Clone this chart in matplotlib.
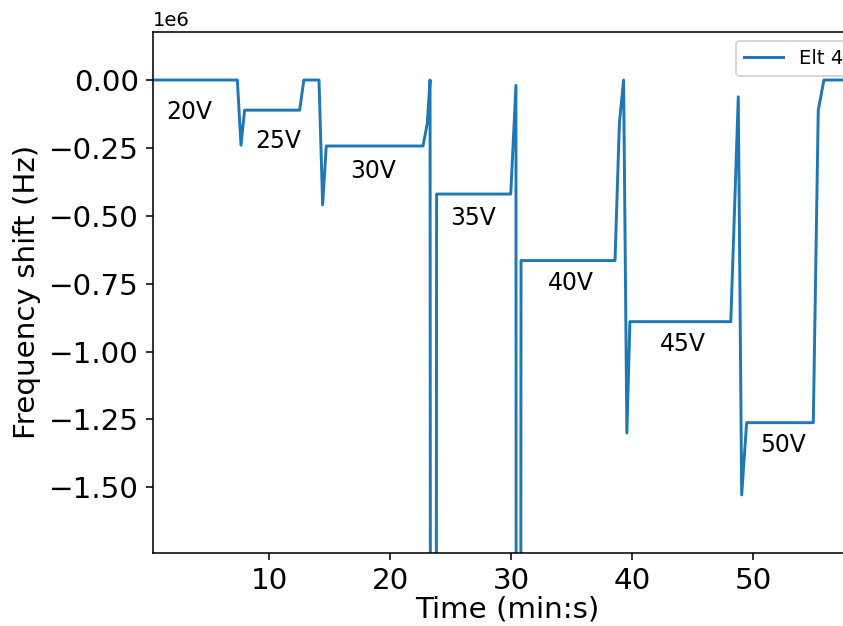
import matplotlib
matplotlib.use('Agg')
import matplotlib.pyplot as plt

# time (min:s) and frequency shift (Hz)
time = [0.35, 7.35, 7.65, 7.95, 12.5, 12.85, 14.1, 14.4, 14.7,
        22.7, 23.05, 23.28, 23.55, 23.82,
        29.95, 30.38, 30.55, 30.8,
        38.57, 38.93, 39.28, 39.55, 39.8,
        48.14, 48.76, 49.04, 49.45,
        54.96, 55.37, 55.84, 59.0]
freq = [0, 0, -240000, -111000, -111000, 0, 0, -460000, -243000,
        -243000, -160000, 0, -20000000, -420000,
        -420000, -20000, -20000000, -665000,
        -665000, -160000, 0, -1300000, -890000,
        -890000, -62000, -1528000, -1262000,
        -1262000, -112000, 0, 0]

volt_labels = ['20V', '25V', '30V', '35V', '40V', '45V', '50V']
label_t = [3.4, 10.7, 18.6, 26.8, 34.9, 44.2, 52.45]
label_f = [-117000, -223000, -334000, -507000, -749000, -972000, -1346000]

dpi = 141
fig = plt.figure(figsize=(843 / dpi, 626 / dpi), dpi=dpi)
ax = fig.add_axes([0.1811, 0.1166, 0.8402, 0.8328])

ax.plot(time, freq, label='Elt 4')
for lab, t, f in zip(volt_labels, label_t, label_f):
    ax.text(t, f, lab, fontsize=12, ha='center', va='center')

ax.set_xlim(0.35, 58.9)
ax.set_ylim(-1742000, 178000)
ax.set_xticks([10, 20, 30, 40, 50])
ax.tick_params(labelsize=15)
ax.set_xlabel('Time (min:s)', fontsize=15, labelpad=0.5)
ax.set_ylabel('Frequency shift (Hz)', fontsize=15)
ax.legend(loc='upper right', fontsize=10)

fig.savefig('out.png', dpi=dpi)
